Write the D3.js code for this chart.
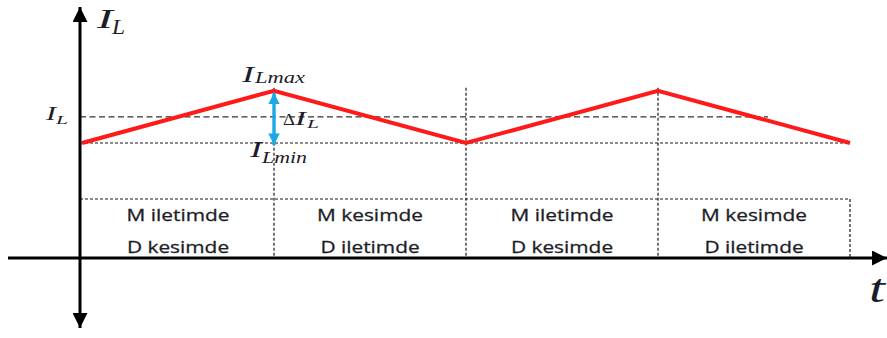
<!DOCTYPE html>
<html>
<head>
<meta charset="utf-8">
<script src="https://cdn.jsdelivr.net/npm/d3@7"></script>
<style>
  html, body { margin: 0; padding: 0; background: #fff; }
  svg { display: block; }
</style>
</head>
<body>
<svg id="chart" width="887" height="338"></svg>
<script>
// Switching phases of the inductor current (half periods)
const phases = [0, 1, 2, 3, 4];
// Inductor current at each phase boundary
const current = [2.2, 3.2, 2.2, 3.2, 2.2];
const avgCurrent = 2.7;
const minCurrent = 2.2;
const maxCurrent = 3.2;
// Switch (M) and diode (D) states for each half period
const stateM = ["M iletimde", "M kesimde", "M iletimde", "M kesimde"];
const stateD = ["D kesimde", "D iletimde", "D kesimde", "D iletimde"];

const svg = d3.select("#chart");
const W = 887, H = 338;
const axisX = 80, axisY = 258;

const x = d3.scaleLinear().domain([0, 4]).range([82, 850]);
const y = d3.scaleLinear().domain([0, 4.4]).range([axisY, 28]);

const ink = "#1c1c2a";
const mathFont = "'Liberation Serif', 'DejaVu Serif', serif";

// Arrow markers
const defs = svg.append("defs");
defs.append("marker")
  .attr("id", "axisArrow")
  .attr("viewBox", "0 0 10 10")
  .attr("refX", 10).attr("refY", 5)
  .attr("markerWidth", 5).attr("markerHeight", 5)
  .attr("markerUnits", "strokeWidth")
  .attr("orient", "auto-start-reverse")
  .append("path").attr("d", "M0,0 L10,5 L0,10 Z").attr("fill", "#000");
defs.append("marker")
  .attr("id", "blueArrow")
  .attr("viewBox", "0 0 10 10")
  .attr("refX", 10).attr("refY", 5)
  .attr("markerWidth", 3.4).attr("markerHeight", 3.8)
  .attr("markerUnits", "strokeWidth")
  .attr("orient", "auto-start-reverse")
  .append("path").attr("d", "M0,0 L10,5 L0,10 Z").attr("fill", "#1aa9e6");

const tableTop = 199;
const xEnd = x(4);
const dotted = sel => sel
  .attr("stroke", "#1a1a1a").attr("stroke-width", 1.2)
  .attr("stroke-dasharray", "3,2");

// Dashed average-current level
svg.append("line")
  .attr("x1", axisX).attr("x2", 768)
  .attr("y1", y(avgCurrent)).attr("y2", y(avgCurrent))
  .attr("stroke", "#333").attr("stroke-width", 1.4)
  .attr("stroke-dasharray", "6,3.5");

// Dotted minimum-current level
svg.append("line")
  .attr("x1", axisX).attr("x2", xEnd)
  .attr("y1", y(minCurrent)).attr("y2", y(minCurrent))
  .call(dotted);

// Dotted phase boundaries
svg.selectAll("line.phase")
  .data(phases.slice(1, 4))
  .join("line")
  .attr("class", "phase")
  .attr("x1", d => x(d)).attr("x2", d => x(d))
  .attr("y1", y(maxCurrent) - 3).attr("y2", axisY)
  .call(dotted);

// State table frame
svg.append("line")
  .attr("x1", axisX).attr("x2", xEnd)
  .attr("y1", tableTop).attr("y2", tableTop)
  .call(dotted);
svg.append("line")
  .attr("x1", xEnd).attr("x2", xEnd)
  .attr("y1", tableTop).attr("y2", axisY)
  .call(dotted);

// State labels
const cells = stateM.map((m, i) => ({
  m, d: stateD[i],
  cx: (Math.max(axisX, x(phases[i])) + x(phases[i + 1])) / 2
}));
const labelFont = "'Open Sans', 'Noto Sans', sans-serif";
const probe = svg.append("text")
  .attr("font-family", labelFont).attr("font-size", 17).text(stateM[0]);
const sx = 103 / probe.node().getComputedTextLength();
probe.remove();

const cellG = svg.selectAll("g.cell").data(cells).join("g").attr("class", "cell");
[["m", 221], ["d", 253]].forEach(([key, base]) => {
  cellG.append("text")
    .attr("transform", d => `translate(${d.cx},${base}) scale(${sx},1)`)
    .attr("text-anchor", "middle")
    .attr("font-family", labelFont).attr("font-size", 17)
    .attr("fill", "#1e1e28")
    .attr("stroke", "#1e1e28").attr("stroke-width", 0.3)
    .text(d => d[key]);
});

// Inductor current waveform
const line = d3.line().x((d, i) => x(phases[i])).y(d => y(d));
svg.append("path")
  .datum(current)
  .attr("d", line)
  .attr("fill", "none")
  .attr("stroke", "#ff1a1a")
  .attr("stroke-width", 4)
  .attr("stroke-linejoin", "miter");

// Ripple arrow (ΔI_L)
svg.append("line")
  .attr("x1", x(1)).attr("x2", x(1))
  .attr("y1", y(maxCurrent) + 2).attr("y2", y(minCurrent) + 2)
  .attr("stroke", "#1aa9e6").attr("stroke-width", 3.4)
  .attr("marker-start", "url(#blueArrow)")
  .attr("marker-end", "url(#blueArrow)");

// Axes
svg.append("line")
  .attr("x1", 8).attr("x2", W)
  .attr("y1", axisY).attr("y2", axisY)
  .attr("stroke", "#000").attr("stroke-width", 3)
  .attr("marker-end", "url(#axisArrow)");
svg.append("line")
  .attr("x1", axisX).attr("x2", axisX)
  .attr("y1", 328).attr("y2", 7)
  .attr("stroke", "#000").attr("stroke-width", 3)
  .attr("marker-start", "url(#axisArrow)")
  .attr("marker-end", "url(#axisArrow)");

// Math labels: each piece is [text, x, baseline, size, width, italic]
function mathLabel(parts) {
  parts.forEach(([txt, xp, base, size, width, italic]) => {
    svg.append("text")
      .attr("x", xp).attr("y", base)
      .attr("font-family", mathFont)
      .attr("font-style", italic === false ? "normal" : "italic")
      .attr("font-size", size)
      .attr("fill", ink)
      .attr("textLength", width)
      .attr("lengthAdjust", "spacingAndGlyphs")
      .text(txt);
  });
}
mathLabel([["I", 97, 28, 28, 16], ["L", 112, 34, 20, 13]]);
mathLabel([["I", 46, 120, 18, 10], ["L", 56, 124, 13, 12]]);
mathLabel([["I", 242, 82, 23, 12], ["Lmax", 255, 83, 17, 50]]);
mathLabel([["I", 250, 157, 23, 12], ["Lmin", 262, 163, 17, 45]]);
mathLabel([["Δ", 283, 125, 17, 12, false], ["I", 295, 125, 19, 11], ["L", 307, 128, 13, 12]]);
mathLabel([["t", 869, 302, 40, 16]]);
</script>
</body>
</html>
